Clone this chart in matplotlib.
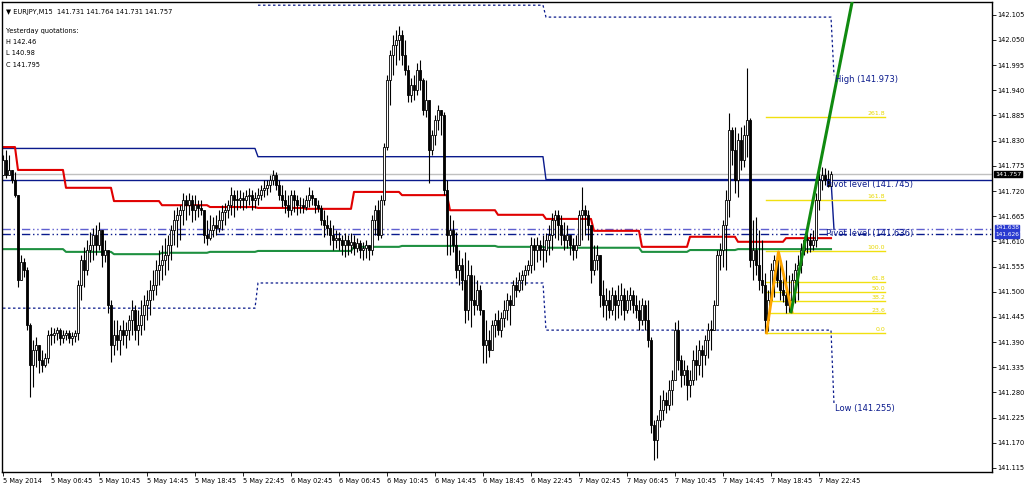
import numpy as np
import matplotlib
matplotlib.use('Agg')
import matplotlib.pyplot as plt
import matplotlib.transforms as mtransforms

# M15 bars, 5 May 2014 02:45 .. 7 May 23:45 (open = previous close)
first_open = 141.755
bar_high = [
    141.798, 141.809, 141.798, 141.755, 141.762, 141.711, 141.580, 141.574, 141.554, 141.431,
    141.395, 141.402, 141.380, 141.373, 141.366, 141.416, 141.423, 141.420, 141.423, 141.420,
    141.416, 141.416, 141.416, 141.412, 141.416, 141.526, 141.580, 141.598, 141.613, 141.631,
    141.640, 141.646, 141.653, 141.624, 141.613, 141.591, 141.482, 141.438, 141.438, 141.427,
    141.438, 141.434, 141.449, 141.482, 141.471, 141.460, 141.482, 141.493, 141.504, 141.526,
    141.547, 141.569, 141.591, 141.602, 141.617, 141.624, 141.646, 141.678, 141.685, 141.689,
    141.715, 141.711, 141.715, 141.711, 141.711, 141.700, 141.700, 141.678, 141.657, 141.668,
    141.663, 141.668, 141.678, 141.689, 141.693, 141.700, 141.729, 141.722, 141.722, 141.722,
    141.718, 141.722, 141.727, 141.722, 141.718, 141.727, 141.733, 141.744, 141.744, 141.755,
    141.766, 141.762, 141.744, 141.733, 141.722, 141.711, 141.722, 141.722, 141.711, 141.707,
    141.705, 141.711, 141.729, 141.722, 141.705, 141.700, 141.689, 141.678, 141.668, 141.657,
    141.646, 141.635, 141.631, 141.624, 141.628, 141.624, 141.628, 141.624, 141.617, 141.613,
    141.609, 141.613, 141.602, 141.668, 141.689, 141.700, 141.711, 141.825, 141.973, 142.028,
    142.061, 142.071, 142.080, 142.071, 142.050, 141.995, 141.967, 141.973, 142.000, 142.006,
    141.967, 141.962, 141.890, 141.853, 141.886, 141.908, 141.897, 141.892, 141.744, 141.668,
    141.657, 141.631, 141.591, 141.574, 141.587, 141.569, 141.558, 141.536, 141.526, 141.515,
    141.460, 141.438, 141.416, 141.438, 141.453, 141.460, 141.456, 141.482, 141.497, 141.493,
    141.526, 141.532, 141.543, 141.547, 141.558, 141.569, 141.620, 141.617, 141.620, 141.613,
    141.624, 141.628, 141.646, 141.672, 141.678, 141.678, 141.668, 141.653, 141.646, 141.624,
    141.617, 141.624, 141.678, 141.729, 141.689, 141.678, 141.646, 141.602, 141.602, 141.574,
    141.526, 141.508, 141.504, 141.511, 141.504, 141.515, 141.519, 141.508, 141.504, 141.511,
    141.504, 141.493, 141.482, 141.486, 141.482, 141.482, 141.402, 141.220, 141.231, 141.274,
    141.285, 141.281, 141.307, 141.329, 141.434, 141.438, 141.362, 141.351, 141.340, 141.329,
    141.373, 141.384, 141.395, 141.384, 141.405, 141.431, 141.438, 141.482, 141.591, 141.606,
    141.657, 141.722, 141.890, 141.860, 141.860, 141.847, 141.860, 141.864, 141.988, 141.879,
    141.657, 141.663, 141.635, 141.613, 141.541, 141.504, 141.563, 141.580, 141.587, 141.569,
    141.547, 141.569, 141.536, 141.541, 141.563, 141.580, 141.606, 141.620, 141.635, 141.628,
    141.635, 141.715, 141.759, 141.773, 141.770, 141.766, 141.764]
bar_low = [
    141.766, 141.749, 141.755, 141.737, 141.707, 141.511, 141.526, 141.532, 141.416, 141.270,
    141.292, 141.336, 141.322, 141.325, 141.336, 141.344, 141.384, 141.388, 141.395, 141.384,
    141.388, 141.395, 141.388, 141.384, 141.390, 141.395, 141.482, 141.511, 141.536, 141.565,
    141.569, 141.580, 141.591, 141.554, 141.565, 141.453, 141.347, 141.362, 141.373, 141.362,
    141.384, 141.377, 141.395, 141.405, 141.395, 141.384, 141.405, 141.416, 141.438, 141.449,
    141.482, 141.493, 141.515, 141.526, 141.536, 141.547, 141.569, 141.602, 141.598, 141.613,
    141.646, 141.657, 141.668, 141.653, 141.657, 141.663, 141.668, 141.606, 141.602, 141.613,
    141.620, 141.624, 141.631, 141.635, 141.646, 141.661, 141.668, 141.663, 141.678, 141.683,
    141.678, 141.683, 141.689, 141.678, 141.683, 141.689, 141.700, 141.707, 141.711, 141.718,
    141.733, 141.722, 141.700, 141.685, 141.672, 141.663, 141.668, 141.674, 141.668, 141.672,
    141.672, 141.678, 141.685, 141.689, 141.672, 141.674, 141.646, 141.620, 141.624, 141.602,
    141.591, 141.596, 141.591, 141.580, 141.576, 141.580, 141.585, 141.580, 141.587, 141.574,
    141.569, 141.574, 141.569, 141.580, 141.624, 141.613, 141.617, 141.689, 141.809, 141.908,
    141.973, 141.995, 142.006, 141.995, 141.973, 141.914, 141.914, 141.919, 141.930, 141.940,
    141.886, 141.882, 141.737, 141.798, 141.820, 141.853, 141.842, 141.711, 141.580, 141.580,
    141.587, 141.530, 141.515, 141.504, 141.431, 141.438, 141.423, 141.449, 141.460, 141.449,
    141.344, 141.344, 141.358, 141.373, 141.402, 141.405, 141.402, 141.423, 141.438, 141.427,
    141.471, 141.489, 141.500, 141.504, 141.515, 141.536, 141.541, 141.547, 141.565, 141.569,
    141.554, 141.565, 141.580, 141.591, 141.617, 141.613, 141.602, 141.591, 141.596, 141.580,
    141.569, 141.574, 141.602, 141.613, 141.624, 141.613, 141.519, 141.536, 141.547, 141.467,
    141.445, 141.438, 141.442, 141.449, 141.438, 141.442, 141.449, 141.438, 141.453, 141.460,
    141.453, 141.442, 141.416, 141.427, 141.416, 141.380, 141.192, 141.132, 141.137, 141.205,
    141.220, 141.235, 141.241, 141.252, 141.307, 141.329, 141.292, 141.296, 141.263, 141.270,
    141.296, 141.307, 141.318, 141.314, 141.340, 141.356, 141.373, 141.416, 141.471, 141.547,
    141.554, 141.547, 141.663, 141.777, 141.715, 141.707, 141.766, 141.773, 141.794, 141.554,
    141.526, 141.536, 141.504, 141.497, 141.410, 141.415, 141.482, 141.489, 141.511, 141.482,
    141.478, 141.453, 141.456, 141.460, 141.475, 141.482, 141.541, 141.580, 141.585, 141.587,
    141.591, 141.598, 141.678, 141.722, 141.733, 141.729, 141.731]
bar_close = [
    141.788, 141.755, 141.766, 141.744, 141.711, 141.526, 141.565, 141.547, 141.427, 141.340,
    141.373, 141.384, 141.351, 141.340, 141.356, 141.405, 141.405, 141.409, 141.416, 141.399,
    141.405, 141.409, 141.399, 141.403, 141.409, 141.515, 141.569, 141.547, 141.591, 141.602,
    141.624, 141.602, 141.635, 141.580, 141.591, 141.471, 141.384, 141.405, 141.395, 141.416,
    141.405, 141.416, 141.438, 141.460, 141.416, 141.427, 141.449, 141.471, 141.482, 141.504,
    141.515, 141.547, 141.558, 141.569, 141.580, 141.602, 141.635, 141.657, 141.668, 141.678,
    141.700, 141.689, 141.700, 141.678, 141.689, 141.683, 141.678, 141.624, 141.617, 141.635,
    141.646, 141.640, 141.657, 141.674, 141.678, 141.689, 141.711, 141.700, 141.700, 141.705,
    141.700, 141.709, 141.711, 141.700, 141.705, 141.711, 141.722, 141.727, 141.733, 141.744,
    141.755, 141.733, 141.711, 141.700, 141.689, 141.678, 141.711, 141.700, 141.689, 141.689,
    141.685, 141.700, 141.711, 141.705, 141.689, 141.683, 141.657, 141.646, 141.640, 141.624,
    141.613, 141.617, 141.613, 141.602, 141.613, 141.602, 141.609, 141.596, 141.606, 141.591,
    141.596, 141.602, 141.591, 141.657, 141.678, 141.624, 141.700, 141.816, 141.962, 142.017,
    142.039, 142.050, 142.061, 142.017, 141.984, 141.930, 141.951, 141.940, 141.984, 141.962,
    141.897, 141.919, 141.809, 141.842, 141.875, 141.897, 141.886, 141.722, 141.624, 141.635,
    141.602, 141.547, 141.558, 141.526, 141.460, 141.536, 141.482, 141.471, 141.504, 141.460,
    141.384, 141.395, 141.373, 141.427, 141.438, 141.416, 141.442, 141.460, 141.482, 141.471,
    141.515, 141.504, 141.526, 141.536, 141.547, 141.558, 141.602, 141.591, 141.602, 141.591,
    141.591, 141.613, 141.624, 141.657, 141.668, 141.646, 141.624, 141.613, 141.624, 141.602,
    141.591, 141.602, 141.668, 141.678, 141.668, 141.646, 141.547, 141.569, 141.580, 141.493,
    141.471, 141.482, 141.460, 141.493, 141.471, 141.482, 141.493, 141.460, 141.482, 141.493,
    141.471, 141.460, 141.438, 141.471, 141.438, 141.395, 141.209, 141.176, 141.220, 141.241,
    141.263, 141.252, 141.285, 141.307, 141.416, 141.351, 141.318, 141.329, 141.296, 141.307,
    141.351, 141.340, 141.373, 141.362, 141.395, 141.416, 141.416, 141.471, 141.580, 141.591,
    141.646, 141.700, 141.853, 141.809, 141.744, 141.831, 141.788, 141.842, 141.875, 141.569,
    141.591, 141.558, 141.526, 141.515, 141.438, 141.482, 141.547, 141.569, 141.526, 141.504,
    141.493, 141.471, 141.482, 141.526, 141.547, 141.558, 141.591, 141.613, 141.613, 141.602,
    141.613, 141.700, 141.744, 141.755, 141.744, 141.731, 141.757]

# time axis labels, one every 16 bars
time_labels = ['5 May 2014', '5 May 06:45', '5 May 10:45', '5 May 14:45', '5 May 18:45',
               '5 May 22:45', '6 May 02:45', '6 May 06:45', '6 May 10:45', '6 May 14:45',
               '6 May 18:45', '6 May 22:45', '7 May 02:45', '7 May 06:45', '7 May 10:45',
               '7 May 14:45', '7 May 18:45', '7 May 22:45']

# H4 moving averages (value per 4h block)
block_start = [0, 5, 21, 37, 53, 69, 85, 101, 117, 133, 149, 165, 181, 197, 213, 229, 245, 261]
ma_red = [141.816, 141.766, 141.727, 141.698, 141.689, 141.685, 141.683, 141.681, 141.718,
          141.711, 141.678, 141.668, 141.659, 141.633, 141.598, 141.620, 141.609, 141.617]
ma_green = [141.593, 141.593, 141.587, 141.582, 141.585, 141.587, 141.589, 141.589, 141.598,
            141.600, 141.600, 141.598, 141.596, 141.596, 141.587, 141.591, 141.593, 141.593]

# daily levels
day_start = [0, 85, 181, 277]
day_pivot = [141.813, 141.795, 141.745, 141.636]
day_high = [None, 142.126, 142.100, 141.973]
day_low = [141.464, 141.519, 141.416, 141.255]

pivot_level = 141.745
pivot2_level = 141.636
next_high = 141.973
next_low = 141.255
bid = 141.757
dd_line_a = 141.638
dd_line_b = 141.626

# fibonacci + zigzag
fib_from, fib_to = 254.5, 294
fib_low, fib_high = 141.410, 141.590
fib_levels = [0.0, 23.6, 38.2, 50.0, 61.8, 100.0, 161.8, 261.8]
zz_x = [254.5, 258.5, 263]
zz_y = [141.410, 141.587, 141.456]
trend_x = [262.7, 284]
trend_y = [141.456, 142.165]

yticks = [141.115 + 0.055 * k for k in range(19)]

NAVY = '#0a1a8c'


def step_path(starts, values, end):
    xs, ys = [], []
    for k, v in enumerate(values):
        s = starts[k]
        e = starts[k + 1] - 1 if k + 1 < len(starts) else end
        xs += [s, e]
        ys += [v, v]
    return xs, ys


def main():
    fig = plt.figure(figsize=(10.24, 4.86), dpi=100)
    ax = fig.add_axes([2 / 1024, 14 / 486, 990 / 1024, 470 / 486])
    ax.set_xlim(-0.33, 329.67)
    ax.set_ylim(141.106, 142.133)

    n = len(bar_close)
    x = np.arange(n)
    close = np.array(bar_close)
    opn = np.array([first_open] + bar_close[:-1])
    hi = np.maximum(np.array(bar_high), np.maximum(opn, close))
    lo = np.minimum(np.array(bar_low), np.minimum(opn, close))

    # indicator lines behind candles
    ax.axhline(bid, color='#c0c0c0', lw=1, zorder=1)
    ax.axhline(pivot_level, color=NAVY, lw=1, zorder=1)
    ax.axhline(dd_line_a, color='#6060d0', lw=1, ls=(0, (6, 2, 1, 2, 1, 2)), zorder=1)
    ax.axhline(dd_line_b, color=NAVY, lw=1, ls=(0, (6, 2, 1, 2, 1, 2)), zorder=1)

    px, py = step_path(day_start, day_pivot, 277)
    ax.plot(px, py, color=NAVY, lw=1, zorder=2)
    hx = [s for s, v in zip(day_start, day_high) if v is not None]
    hv = [v for v in day_high if v is not None]
    sx, sy = step_path(hx, hv, 277)
    ax.plot(sx, sy, color=NAVY, lw=0.9, ls=(0, (2, 2)), zorder=2)
    sx, sy = step_path(day_start, day_low, 277)
    ax.plot(sx, sy, color=NAVY, lw=0.9, ls=(0, (2, 2)), zorder=2)

    gx, gy = step_path(block_start, ma_green, n - 1)
    ax.plot(gx, gy, color='#1e9040', lw=1.5, zorder=2)
    rx, ry = step_path(block_start, ma_red, n - 1)
    ax.plot(rx, ry, color='#e00000', lw=1.5, zorder=2)

    # fibonacci levels
    for lv in fib_levels:
        p = fib_low + (fib_high - fib_low) * lv / 100
        ax.plot([fib_from, fib_to], [p, p], color='#f0e010', lw=1, zorder=2)
        ax.text(fib_to, p + 0.002, '%.1f' % lv, color='#e8d800', fontsize=4.5,
                ha='right', va='bottom', zorder=5)

    # candles
    up = close > opn
    ax.vlines(x, lo, hi, color='black', lw=0.8, zorder=3)
    body_h = np.maximum(np.abs(close - opn), 0.0015)
    ax.bar(x, body_h, bottom=np.minimum(opn, close), width=0.62,
           color=np.where(up, 'white', 'black'), edgecolor='black', linewidth=0.6, zorder=4)

    ax.plot(zz_x, zz_y, color='#ffa500', lw=2, zorder=5)
    ax.plot(trend_x, trend_y, color='#108a10', lw=2.2, zorder=5)

    # labels of the levels
    ax.text(277.3, next_high, 'High (%.3f)' % next_high, color=NAVY, fontsize=6, va='top', zorder=6)
    ax.text(274.3, pivot_level, 'Pivot level (%.3f)' % pivot_level, color=NAVY, fontsize=6,
            va='top', zorder=6)
    ax.text(274.3, pivot2_level, 'Pivot level (%.3f)' % pivot2_level, color=NAVY, fontsize=6,
            va='top', zorder=6)
    ax.text(277.3, next_low, 'Low (%.3f)' % next_low, color=NAVY, fontsize=6, va='top', zorder=6)

    # header
    ax.text(0.004, 0.985, '\u25bc EURJPY,M15  141.731 141.764 141.731 141.757', transform=ax.transAxes,
            fontsize=4.8, va='top')
    for k, s in enumerate(['Yesterday quotations:', 'H 142.46', 'L 140.98', 'C 141.795']):
        ax.text(0.004, 0.945 - k * 0.024, s, transform=ax.transAxes, fontsize=4.8, va='top')

    # axes
    ax.yaxis.tick_right()
    ax.set_yticks(yticks)
    ax.set_yticklabels(['%.3f' % t for t in yticks])
    ax.set_xticks(np.arange(len(time_labels)) * 16)
    ax.set_xticklabels(time_labels, ha='left')
    ax.tick_params(axis='both', labelsize=4.8, length=3, width=0.6, pad=1, direction='out')
    for sp in ax.spines.values():
        sp.set_linewidth(1)

    tr = mtransforms.blended_transform_factory(ax.transAxes, ax.transData)
    ax.text(1.003, bid, '%.3f' % bid, transform=tr, fontsize=4.6, color='white', va='center',
            bbox=dict(boxstyle='square,pad=0.12', fc='black', ec='black'), zorder=10, clip_on=False)
    ax.text(1.003, dd_line_a + 0.002, '%.3f' % dd_line_a, transform=tr, fontsize=4.2, color='white',
            va='center', bbox=dict(boxstyle='square,pad=0.08', fc='#2a3ad0', ec='#2a3ad0'),
            zorder=10, clip_on=False)
    ax.text(1.003, dd_line_b - 0.002, '%.3f' % dd_line_b, transform=tr, fontsize=4.2, color='white',
            va='center', bbox=dict(boxstyle='square,pad=0.08', fc='#2a3ad0', ec='#2a3ad0'),
            zorder=10, clip_on=False)

    fig.savefig('out.png', dpi=100)


if __name__ == '__main__':
    main()
